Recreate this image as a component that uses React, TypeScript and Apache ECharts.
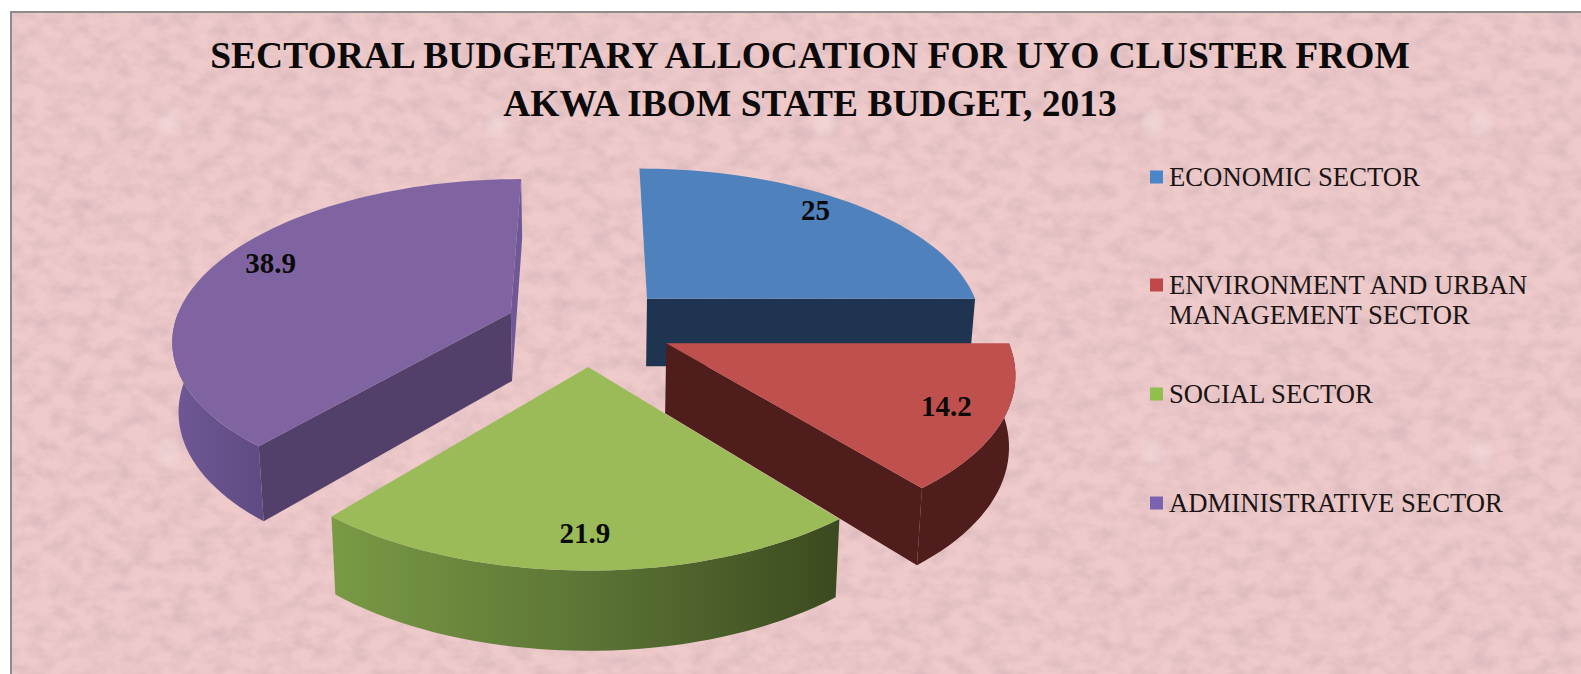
import React, { useEffect, useRef } from "react";
import * as echarts from "echarts";

const titleLines = ["SECTORAL BUDGETARY ALLOCATION FOR UYO CLUSTER FROM", "AKWA IBOM STATE BUDGET, 2013"];
const sectors = ["ECONOMIC SECTOR", "ENVIRONMENT AND URBAN\nMANAGEMENT SECTOR", "SOCIAL SECTOR", "ADMINISTRATIVE SECTOR"];
const shares = [25, 14.2, 21.9, 38.9];
const drawOrder = [0, 3, 1, 2];

const topColors = ["#4f81bd", "#c0504d", "#9bbb59", "#8064a2"];
const cutColors = ["#1f3450", "#4f1d1b", "#4a5c28", "#53406a"];
const legendColors = ["#4a86c8", "#c0474a", "#8fc04e", "#7a62b0"];
const legendY = [177, 285, 394, 503];

const CX = 589, CY = 326, A = 337, B = 158, K = 0.154, E = 0.25, DEG = Math.PI / 180;

const project = (x: number, y: number, down = false) => {
  const w = 1 - K * y;
  const sx = CX + (A * x) / w;
  const sy = CY + (B * y) / w;
  return down ? [CX + (sx - CX) * 0.985, sy + 69 + 9 * y] : [sx, sy];
};

const polar = (deg: number, r = 1) => [Math.sin(deg * DEG) * r, -Math.cos(deg * DEG) * r];

const arcPts = (a: number, b: number) => {
  const out: number[][] = [];
  const n = Math.max(2, Math.ceil(Math.abs(b - a) / 2));
  for (let i = 0; i <= n; i++) out.push(polar(a + ((b - a) * i) / n));
  return out;
};

function renderSlice(params: any, api: any) {
  const value = api.value(0);
  const sector = api.value(1);
  const start = (api.value(2) / 100) * 360;
  const end = start + (value / 100) * 360;
  const mid = (start + end) / 2;
  const [ox, oy] = polar(mid, E);
  const P = (p: number[], down = false) => project(p[0] + ox, p[1] + oy, down);
  const apex = [0, 0];
  const kids: any[] = [];

  const wall = (a: number[], b: number[], fill: any) =>
    kids.push({ type: "polygon", shape: { points: [P(a), P(b), P(b, true), P(a, true)] }, style: { fill } });

  const camDot = (n: number[]) => n[0] * (0 - ox) + n[1] * (1 / K - oy);
  const nStart = [-Math.cos(start * DEG), -Math.sin(start * DEG)];
  const nEnd = [Math.cos(end * DEG), Math.sin(end * DEG)];
  if (camDot(nStart) > 0 && sector !== 0) wall(apex, polar(start), cutColors[sector]);
  if (camDot(nEnd) > 0) wall(apex, polar(end), sector === 3 ? "#6f5896" : cutColors[sector]);

  const a0 = Math.max(start, 90);
  const a1 = Math.min(end, 270);
  if (a1 > a0) {
    const pts = arcPts(a0, a1);
    const ring = [...pts.map((p) => P(p)), ...pts.slice().reverse().map((p) => P(p, true))];
    const fill =
      sector === 2
        ? new echarts.graphic.LinearGradient(0, 0, 1, 0, [
            { offset: 0, color: "#7a9a45" },
            { offset: 0.5, color: "#5c7535" },
            { offset: 1, color: "#3b4a1f" },
          ])
        : sector === 3
        ? new echarts.graphic.LinearGradient(0, 0, 1, 0, [
            { offset: 0, color: "#6f5896" },
            { offset: 1, color: "#5f4b82" },
          ])
        : cutColors[sector];
    kids.push({ type: "polygon", shape: { points: ring }, style: { fill } });
  }

  const top = [apex, ...arcPts(start, end)].map((p) => P(p));
  kids.push({ type: "polygon", shape: { points: top }, style: { fill: topColors[sector] } });

  const labelPlane = polar(mid, 0.84);
  const [lx, ly] = P(labelPlane);
  const isBack = labelPlane[1] + oy < 0;
  kids.push({
    type: "text",
    x: isBack ? CX + (lx - CX) * 0.975 : lx,
    y: isBack ? ly - 7 : ly,
    style: {
      text: String(value),
      fill: "#0a0a0a",
      font: 'bold 29px "Liberation Serif"',
      align: "center",
      verticalAlign: "middle",
    },
  });
  return { type: "group", children: kids };
}

const cumulative = shares.map((_, i) => shares.slice(0, i).reduce((s, v) => s + v, 0));
const rows = drawOrder.map((i) => [shares[i], i, cumulative[i]]);

const spots = [157, 485, 813, 1141, 1469]
  .flatMap((x) => [110, 440].map((y) => `<ellipse cx='${x}' cy='${y}' rx='10' ry='12' fill='%23f3dcdc' fill-opacity='.55' filter='url(%23b)'/>`))
  .join("");

const paper =
  "url(\"data:image/svg+xml,%3Csvg xmlns='http://www.w3.org/2000/svg' width='1581' height='674'%3E" +
  "%3Cfilter id='n' x='0' y='0' width='100%25' height='100%25'%3E" +
  "%3CfeTurbulence type='fractalNoise' baseFrequency='.05 .07' numOctaves='4' seed='7'/%3E" +
  "%3CfeColorMatrix values='0 0 0 0 .66 0 0 0 0 .46 0 0 0 0 .48 1.4 0 0 0 -.5'/%3E%3C/filter%3E" +
  "%3Cfilter id='b'%3E%3CfeGaussianBlur stdDeviation='4'/%3E%3C/filter%3E" +
  "%3Crect width='1581' height='674' fill='%23efcacb'/%3E" +
  "%3Crect width='1581' height='674' filter='url(%23n)'/%3E" +
  spots.replace(/</g, "%3C").replace(/>/g, "%3E") +
  "%3C/svg%3E\")";

export default function App() {
  const ref = useRef<HTMLDivElement>(null);
  useEffect(() => {
    document.body.style.margin = "0";
    document.body.style.background = "#fff";
    const chart = echarts.init(ref.current!, null, { renderer: "svg" });
    const legend: any[] = [];
    sectors.forEach((name, i) => {
      legend.push({ type: "rect", shape: { x: 1150, y: legendY[i] - 6.5, width: 13, height: 13 }, style: { fill: legendColors[i] } });
      name.split("\n").forEach((line, j) =>
        legend.push({
          type: "text",
          x: 1169,
          y: legendY[i] + j * 30,
          style: { text: line, fill: "#1a1414", font: '26.7px "Liberation Serif"', align: "left", verticalAlign: "middle" },
        })
      );
    });
    chart.setOption({
      animation: false,
      backgroundColor: "transparent",
      title: {
        text: titleLines.join("\n"),
        left: 805,
        top: 26,
        textAlign: "center",
        textStyle: { fontFamily: "Liberation Serif", fontWeight: "bold", fontSize: 37.5, lineHeight: 48, color: "#0d0a0a" },
      },
      graphic: legend,
      series: [
        {
          type: "custom",
          coordinateSystem: "none",
          renderItem: renderSlice,
          data: rows,
          silent: true,
        },
      ],
    });
    return () => chart.dispose();
  }, []);
  return (
    <div style={{ position: "absolute", left: 0, top: 0, width: 1581, height: 674, overflow: "hidden", background: "#fff" }}>
      <div
        style={{
          position: "absolute",
          left: 10,
          top: 11,
          width: 1571,
          height: 663,
          boxSizing: "border-box",
          borderLeft: "2px solid #8f8a8c",
          borderTop: "2px solid #8f8a8c",
          backgroundImage: paper,
        }}
      />
      <div ref={ref} style={{ position: "absolute", left: 0, top: 0, width: 1581, height: 674 }} />
    </div>
  );
}
